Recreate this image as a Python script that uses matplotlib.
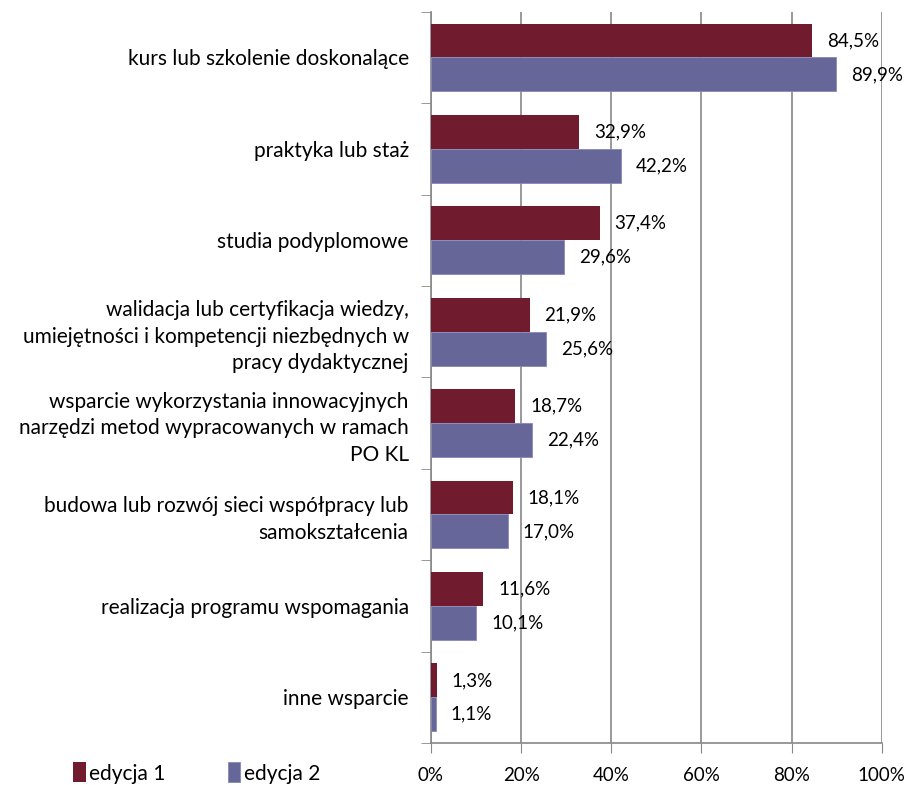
import numpy as np
import matplotlib.pyplot as plt

# dane
kategorie = [
    'kurs lub szkolenie doskonalące',
    'praktyka lub staż',
    'studia podyplomowe',
    'walidacja lub certyfikacja wiedzy,\numiejętności i kompetencji niezbędnych w\npracy dydaktycznej',
    'wsparcie wykorzystania innowacyjnych\nnarzędzi metod wypracowanych w ramach\nPO KL',
    'budowa lub rozwój sieci współpracy lub\nsamokształcenia',
    'realizacja programu wspomagania',
    'inne wsparcie',
]
edycja1 = [84.5, 32.9, 37.4, 21.9, 18.7, 18.1, 11.6, 1.3]
edycja2 = [89.9, 42.2, 29.6, 25.6, 22.4, 17.0, 10.1, 1.1]
serie = ['edycja 1', 'edycja 2']
kolory = ['#701C2E', '#666699']

plt.rcParams['font.family'] = ['Lato', 'DejaVu Sans']

fig = plt.figure(figsize=(9.11, 7.85), dpi=100)
ax = fig.add_axes([0.473, 0.0535, 0.495, 0.9315])

n = len(kategorie)
y = np.arange(n)
h = 0.37
b1 = ax.barh(y - h / 2, edycja1, height=h, color=kolory[0], label=serie[0], zorder=3)
b2 = ax.barh(y + h / 2, edycja2, height=h, color=kolory[1], label=serie[1], zorder=3,
             edgecolor='#8888BB', linewidth=0.6)

for bars, vals in [(b1, edycja1), (b2, edycja2)]:
    for bar, v in zip(bars, vals):
        ax.text(v + 3.3, bar.get_y() + bar.get_height() / 2,
                f'{v:.1f}%'.replace('.', ','), va='center', ha='left', fontsize=13.5)

ax.set_xlim(0, 100)
ax.set_ylim(n - 0.5, -0.5)
ax.set_xticks(np.arange(0, 101, 20))
ax.set_xticklabels([f'{t}%' for t in range(0, 101, 20)], fontsize=13.5)
ax.tick_params(axis='x', length=7, color='#888888', pad=10)
ax.grid(axis='x', color='#888888', linewidth=1.2, zorder=0)

ax.set_yticks(y)
ax.set_yticklabels(kategorie, fontsize=15, linespacing=1.4)
ax.tick_params(axis='y', length=0, pad=16)
ax.set_yticks(np.arange(-0.5, n, 1), minor=True)
ax.tick_params(axis='y', which='minor', length=7, color='#888888')

for s in ['top', 'right']:
    ax.spines[s].set_visible(False)
for s in ['left', 'bottom']:
    ax.spines[s].set_color('#888888')
    ax.spines[s].set_linewidth(1.2)

fig.legend(loc='lower left', bbox_to_anchor=(0.06, -0.022), ncol=2, frameon=False,
           fontsize=15, handlelength=0.6, handleheight=1.1, handletextpad=0.15,
           columnspacing=3.0)

plt.savefig('out.png', dpi=100)
